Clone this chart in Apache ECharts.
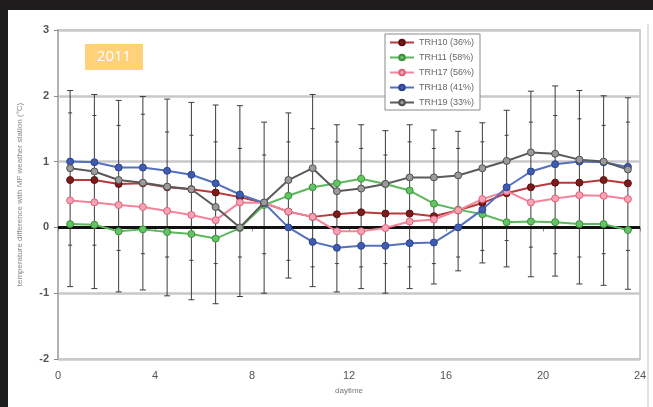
<!DOCTYPE html>
<html>
<head>
<meta charset="utf-8">
<script src="https://cdn.jsdelivr.net/npm/echarts@6/dist/echarts.min.js"></script>
<style>
  html, body { margin: 0; padding: 0; background: #1e1c1c; width: 653px; height: 407px; overflow: hidden; }
  #chart { position: absolute; left: 8px; top: 10px; width: 645px; height: 397px; background: #ffffff; }
</style>
</head>
<body>
<div id="chart"></div>
<script>
// Hour of day (half-hour centres)
const hours = [0.5,1.5,2.5,3.5,4.5,5.5,6.5,7.5,8.5,9.5,10.5,11.5,12.5,13.5,14.5,15.5,16.5,17.5,18.5,19.5,20.5,21.5,22.5,23.5];

// Mean temperature difference per sensor (°C)
const trh10 = [0.72,0.72,0.66,0.67,0.61,0.58,0.53,0.46,0.37,0.24,0.16,0.20,0.23,0.21,0.21,0.17,0.26,0.37,0.52,0.61,0.68,0.68,0.72,0.67];
const trh11 = [0.05,0.04,-0.06,-0.03,-0.07,-0.10,-0.17,-0.01,0.34,0.48,0.61,0.67,0.74,0.66,0.56,0.36,0.27,0.20,0.08,0.09,0.08,0.05,0.05,-0.04];
const trh17 = [0.41,0.38,0.34,0.31,0.25,0.19,0.11,0.38,0.37,0.24,0.16,-0.06,-0.06,-0.01,0.09,0.12,0.26,0.43,0.55,0.38,0.44,0.49,0.48,0.43];
const trh18 = [1.00,0.99,0.91,0.91,0.86,0.80,0.67,0.50,0.37,0.00,-0.22,-0.31,-0.28,-0.28,-0.24,-0.23,0.00,0.27,0.61,0.85,0.96,1.00,0.99,0.92];
const trh19 = [0.90,0.85,0.72,0.68,0.62,0.58,0.31,0.00,0.38,0.72,0.90,0.55,0.59,0.66,0.76,0.76,0.79,0.90,1.01,1.14,1.12,1.03,1.00,0.88];

// Spread of the differences (whisker ends and inner caps)
const errHigh  = [2.08,2.02,1.93,1.99,1.95,1.90,1.86,1.85,1.60,1.74,2.02,1.56,1.56,1.47,1.56,1.48,1.46,1.59,1.78,2.07,2.15,2.08,2.00,1.97];
const errLow   = [-0.90,-0.93,-0.98,-0.95,-1.04,-1.10,-1.16,-1.05,-1.00,-0.77,-0.90,-0.98,-0.93,-1.00,-0.93,-0.86,-0.66,-0.54,-0.60,-0.75,-0.74,-0.86,-0.88,-0.94];
const innerHigh = [1.74,1.70,1.55,1.72,1.45,1.40,1.30,1.20,1.10,1.30,1.50,1.30,1.20,1.10,1.30,1.20,1.20,1.30,1.40,1.60,1.70,1.65,1.55,1.60];
const innerLow  = [-0.27,-0.27,-0.35,-0.40,-0.45,-0.50,-0.55,-0.45,-0.40,-0.50,-0.60,-0.55,-0.60,-0.55,-0.60,-0.55,-0.45,-0.35,-0.20,-0.30,-0.40,-0.45,-0.40,-0.35];

const seriesNames = ['TRH10 (36%)','TRH11 (58%)','TRH17 (56%)','TRH18 (41%)','TRH19 (33%)'];
const xTicks = [0,4,8,12,16,20,24];
const yTicks = [-2,-1,0,1,2,3];

const pairs = arr => hours.map((h, i) => [h, arr[i]]);

const styles = [
  { line: '#b83a3a', fill: '#7d1c1c', border: '#5a1010' },
  { line: '#5cb85c', fill: '#62c462', border: '#3f8f3f' },
  { line: '#f4849a', fill: '#f7a3b3', border: '#e0607a' },
  { line: '#5470c0', fill: '#3f5cb0', border: '#2c4490' },
  { line: '#5a5a5a', fill: '#9a9a9a', border: '#505050' }
];
const values = [trh10, trh11, trh17, trh18, trh19];

const errData = hours.map((h, i) => [h, errLow[i], errHigh[i], innerLow[i], innerHigh[i]]);

const lineSeries = values.map((v, k) => ({
  name: seriesNames[k],
  type: 'line',
  data: pairs(v),
  z: 5 + k,
  symbol: 'circle',
  symbolSize: 7,
  lineStyle: { color: styles[k].line, width: 2 },
  itemStyle: { color: styles[k].fill, borderColor: styles[k].border, borderWidth: 1 },
  emphasis: { disabled: true },
  animation: false
}));

const chart = echarts.init(document.getElementById('chart'), null, { renderer: 'canvas' });

chart.setOption({
  animation: false,
  backgroundColor: '#ffffff',
  grid: {
    left: 48, right: 13, top: 20, bottom: 48,
    show: true, borderColor: '#cfcfcf', borderWidth: 2, backgroundColor: 'transparent'
  },
  legend: {
    orient: 'vertical',
    left: 377, top: 24,
    data: seriesNames,
    itemWidth: 24, itemHeight: 7, itemGap: 6,
    padding: [4, 6, 3, 4],
    backgroundColor: '#ffffff',
    borderColor: '#8a8a8a', borderWidth: 1,
    textStyle: { fontFamily: 'Liberation Sans, Arial', fontSize: 9, color: '#666' }
  },
  xAxis: {
    type: 'value', min: 0, max: 24, interval: 4,
    name: 'daytime', nameLocation: 'middle', nameGap: 28,
    nameTextStyle: { fontFamily: 'Liberation Sans, Arial', fontSize: 8, color: '#777' },
    axisLine: { show: true, lineStyle: { color: '#bdbdbd', width: 2 } },
    axisTick: { show: true, length: 4, lineStyle: { color: '#888' } },
    axisLabel: { fontFamily: 'Liberation Sans, Arial', fontSize: 11, color: '#555', margin: 11,
      formatter: v => xTicks.includes(v) ? String(v) : '' },
    splitLine: { show: false }
  },
  yAxis: {
    type: 'value', min: -2, max: 3, interval: 1,
    name: 'temperature difference with MF weather station (°C)',
    nameLocation: 'middle', nameGap: 34,
    nameTextStyle: { fontFamily: 'Liberation Sans, Arial', fontSize: 8, color: '#888' },
    axisLine: { show: true, lineStyle: { color: '#a8a8a8', width: 1.5 } },
    axisTick: { show: true, length: 4, lineStyle: { color: '#888' } },
    axisLabel: { fontFamily: 'Liberation Sans, Arial', fontSize: 11, fontWeight: 'bold', color: '#555', margin: 9,
      formatter: v => yTicks.includes(v) ? String(v) : '' },
    splitLine: { show: true, lineStyle: { color: '#c9c9c9', width: 2.5 } }
  },
  graphic: [
    {
      type: 'group', left: 77, top: 34,
      children: [
        { type: 'rect', shape: { x: 0, y: 0, width: 58, height: 26 }, style: { fill: '#ffd27a' } },
        { type: 'text', x: 29, y: 13, style: { text: '2011', fill: '#ffffff', font: '15px "Open Sans", sans-serif', align: 'center', verticalAlign: 'middle' } }
      ]
    },
    { type: 'line', shape: { x1: 640, y1: 14, x2: 640, y2: 397 }, style: { stroke: '#e2e2e2', lineWidth: 2 } }
  ],
  series: [
    {
      type: 'custom',
      name: 'spread',
      z: 2,
      silent: true,
      data: errData,
      renderItem: (params, api) => {
        const x = api.value(0);
        const lo = api.coord([x, api.value(1)]);
        const hi = api.coord([x, api.value(2)]);
        const ilo = api.coord([x, api.value(3)]);
        const ihi = api.coord([x, api.value(4)]);
        const st = { stroke: '#3c3c3c', lineWidth: 1 };
        const cap = (p, w) => ({ type: 'line', shape: { x1: p[0] - w, y1: p[1], x2: p[0] + w, y2: p[1] }, style: st });
        return {
          type: 'group',
          children: [
            { type: 'line', shape: { x1: hi[0], y1: hi[1], x2: lo[0], y2: lo[1] }, style: st },
            cap(hi, 3), cap(lo, 3), cap(ihi, 2), cap(ilo, 2)
          ]
        };
      },
      animation: false
    },
    ...lineSeries,
    {
      type: 'line',
      name: 'zero',
      data: [],
      silent: true,
      z: 4,
      markLine: {
        silent: true, symbol: 'none', animation: false,
        label: { show: false },
        lineStyle: { color: '#111', width: 3, type: 'solid' },
        data: [{ yAxis: 0 }]
      }
    }
  ]
});
</script>
</body>
</html>
